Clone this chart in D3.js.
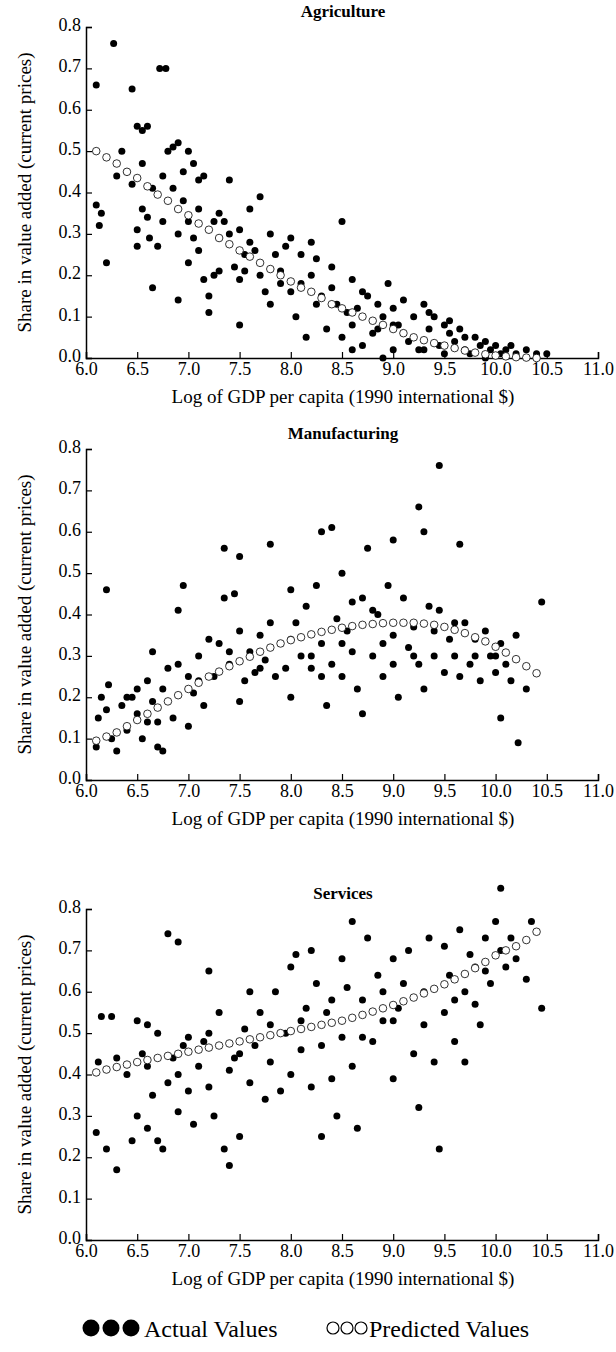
<!DOCTYPE html>
<html><head><meta charset="utf-8">
<script src="https://cdn.jsdelivr.net/npm/d3@7"></script>
<style>body{margin:0;background:#fff}text{font-family:"Liberation Serif","DejaVu Serif",serif}</style>
</head><body><svg id="c" width="616" height="1352"></svg>
<script>
const xTicks=[6.0,6.5,7.0,7.5,8.0,8.5,9.0,9.5,10.0,10.5,11.0];
const yTicks=[0,0.1,0.2,0.3,0.4,0.5,0.6,0.7,0.8];
const panelTitles=["Agriculture","Manufacturing","Services"];
const predX=[6.1,6.2,6.3,6.4,6.5,6.6,6.7,6.8,6.9,7.0,7.1,7.2,7.3,7.4,7.5,7.6,7.7,7.8,7.9,8.0,8.1,8.2,8.3,8.4,8.5,8.6,8.7,8.8,8.9,9.0,9.1,9.2,9.3,9.4,9.5,9.6,9.7,9.8,9.9,10.0,10.1,10.2,10.3,10.4];
const agriPred=[0.50,0.485,0.47,0.45,0.435,0.415,0.395,0.38,0.36,0.345,0.325,0.31,0.29,0.275,0.26,0.245,0.23,0.215,0.20,0.185,0.17,0.16,0.145,0.13,0.12,0.11,0.10,0.09,0.08,0.07,0.06,0.05,0.043,0.036,0.03,0.024,0.018,0.013,0.009,0.006,0.004,0.002,0.001,0.0];
const manuPred=[0.095,0.105,0.115,0.13,0.145,0.16,0.175,0.19,0.205,0.22,0.235,0.25,0.262,0.275,0.287,0.298,0.31,0.32,0.33,0.338,0.345,0.352,0.358,0.363,0.368,0.372,0.375,0.377,0.379,0.38,0.38,0.38,0.378,0.375,0.37,0.363,0.355,0.345,0.335,0.322,0.308,0.292,0.275,0.258];
const servPred=[0.405,0.412,0.418,0.424,0.43,0.435,0.44,0.445,0.45,0.455,0.46,0.465,0.47,0.475,0.48,0.485,0.49,0.495,0.5,0.505,0.51,0.515,0.52,0.525,0.53,0.537,0.544,0.552,0.56,0.568,0.577,0.586,0.596,0.607,0.618,0.63,0.643,0.657,0.672,0.688,0.7,0.71,0.725,0.745];
const agriActual=[[6.1,0.66],[6.27,0.76],[6.1,0.37],[6.13,0.32],[6.15,0.35],[6.2,0.23],[6.45,0.65],[6.5,0.56],[6.55,0.55],[6.6,0.56],[6.72,0.70],[6.78,0.70],[6.4,0.45],[6.45,0.42],[6.5,0.31],[6.5,0.27],[6.55,0.36],[6.6,0.34],[6.62,0.29],[6.65,0.17],[6.7,0.27],[6.75,0.33],[6.8,0.5],[6.85,0.51],[6.9,0.52],[6.95,0.45],[7.0,0.5],[7.05,0.47],[7.1,0.43],[7.15,0.44],[6.9,0.14],[6.9,0.30],[6.95,0.38],[7.0,0.33],[7.0,0.23],[7.05,0.29],[7.1,0.26],[7.15,0.19],[7.2,0.11],[7.2,0.15],[7.25,0.2],[7.3,0.35],[7.3,0.21],[7.35,0.33],[7.4,0.43],[7.4,0.3],[7.45,0.22],[7.5,0.19],[7.5,0.08],[7.55,0.21],[7.6,0.36],[7.6,0.28],[7.65,0.26],[7.7,0.39],[7.7,0.2],[7.75,0.16],[7.8,0.30],[7.8,0.13],[7.85,0.25],[7.9,0.21],[7.95,0.27],[8.0,0.29],[8.0,0.16],[8.05,0.10],[8.1,0.25],[8.1,0.18],[8.15,0.05],[8.2,0.20],[8.25,0.24],[8.25,0.13],[8.3,0.15],[8.35,0.07],[8.4,0.17],[8.45,0.13],[8.5,0.33],[8.5,0.05],[8.55,0.11],[8.6,0.19],[8.6,0.02],[8.65,0.12],[8.7,0.03],[8.75,0.15],[8.8,0.06],[8.85,0.13],[8.9,0.0],[8.9,0.1],[8.95,0.18],[9.0,0.12],[9.0,0.02],[9.05,0.08],[9.1,0.14],[9.15,0.04],[9.2,0.10],[9.25,0.02],[9.3,0.13],[9.35,0.07],[9.4,0.1],[9.45,0.03],[9.5,0.08],[9.55,0.06],[9.6,0.04],[9.65,0.07],[9.7,0.05],[9.75,0.01],[9.8,0.05],[9.85,0.03],[9.9,0.04],[9.95,0.02],[10.0,0.03],[10.05,0.01],[10.1,0.02],[10.15,0.03],[10.2,0.01],[10.3,0.02],[10.4,0.01],[10.5,0.01],[6.3,0.44],[6.35,0.5],[6.55,0.47],[6.65,0.41],[6.75,0.44],[6.85,0.41],[7.1,0.36],[7.25,0.33],[7.5,0.31],[7.55,0.25],[7.9,0.18],[8.2,0.28],[8.4,0.22],[8.7,0.16],[9.1,0.06],[9.3,0.02],[9.5,0.01],[9.7,0.02],[9.9,0.0],[9.55,0.09],[9.35,0.11],[9.0,0.08],[8.85,0.07],[8.6,0.08]];
const manuActual=[[6.1,0.08],[6.12,0.15],[6.15,0.2],[6.2,0.46],[6.22,0.23],[6.25,0.1],[6.3,0.07],[6.35,0.18],[6.4,0.12],[6.45,0.2],[6.5,0.16],[6.5,0.22],[6.55,0.1],[6.6,0.24],[6.6,0.14],[6.65,0.31],[6.65,0.19],[6.7,0.08],[6.75,0.07],[6.75,0.22],[6.8,0.27],[6.85,0.15],[6.9,0.28],[6.9,0.41],[6.95,0.47],[7.0,0.25],[7.0,0.13],[7.05,0.21],[7.1,0.3],[7.15,0.18],[7.2,0.34],[7.25,0.25],[7.3,0.33],[7.35,0.56],[7.35,0.44],[7.4,0.28],[7.45,0.45],[7.5,0.54],[7.5,0.36],[7.55,0.24],[7.6,0.31],[7.65,0.26],[7.7,0.35],[7.75,0.29],[7.8,0.57],[7.8,0.38],[7.85,0.25],[7.9,0.33],[7.95,0.27],[8.0,0.46],[8.0,0.2],[8.05,0.38],[8.1,0.3],[8.15,0.42],[8.2,0.27],[8.25,0.47],[8.3,0.6],[8.3,0.33],[8.35,0.18],[8.4,0.61],[8.4,0.28],[8.45,0.39],[8.5,0.5],[8.5,0.25],[8.55,0.36],[8.6,0.43],[8.6,0.31],[8.65,0.22],[8.7,0.44],[8.7,0.16],[8.75,0.56],[8.8,0.3],[8.85,0.4],[8.9,0.25],[8.95,0.47],[9.0,0.58],[9.0,0.35],[9.05,0.2],[9.1,0.44],[9.15,0.32],[9.2,0.37],[9.25,0.66],[9.25,0.28],[9.3,0.6],[9.3,0.22],[9.35,0.42],[9.4,0.3],[9.45,0.76],[9.45,0.41],[9.5,0.26],[9.55,0.34],[9.6,0.3],[9.65,0.57],[9.65,0.25],[9.7,0.38],[9.75,0.28],[9.8,0.34],[9.85,0.24],[9.9,0.36],[9.95,0.3],[10.0,0.26],[10.05,0.33],[10.05,0.15],[10.1,0.28],[10.15,0.24],[10.2,0.35],[10.22,0.09],[10.3,0.22],[10.45,0.43],[6.2,0.17],[6.4,0.2],[6.7,0.14],[7.1,0.24],[7.4,0.31],[7.7,0.27],[8.0,0.34],[8.2,0.3],[8.5,0.33],[8.8,0.41],[9.0,0.28],[9.2,0.3],[9.4,0.36],[9.6,0.38],[9.8,0.3],[10.0,0.3],[8.3,0.25],[7.5,0.19],[8.9,0.33]];
const servActual=[[6.1,0.26],[6.12,0.43],[6.15,0.54],[6.2,0.22],[6.25,0.54],[6.3,0.17],[6.4,0.4],[6.45,0.24],[6.5,0.53],[6.5,0.3],[6.55,0.45],[6.6,0.27],[6.6,0.52],[6.65,0.35],[6.7,0.24],[6.75,0.22],[6.8,0.74],[6.8,0.38],[6.85,0.44],[6.9,0.72],[6.9,0.31],[6.95,0.47],[7.0,0.36],[7.05,0.28],[7.1,0.42],[7.15,0.48],[7.2,0.65],[7.2,0.37],[7.25,0.3],[7.3,0.55],[7.35,0.22],[7.4,0.18],[7.45,0.44],[7.5,0.25],[7.55,0.51],[7.6,0.38],[7.65,0.47],[7.7,0.55],[7.75,0.34],[7.8,0.43],[7.85,0.6],[7.9,0.36],[7.95,0.5],[8.0,0.66],[8.0,0.4],[8.05,0.69],[8.1,0.46],[8.15,0.56],[8.2,0.7],[8.2,0.37],[8.25,0.62],[8.3,0.25],[8.35,0.55],[8.4,0.39],[8.45,0.3],[8.5,0.68],[8.5,0.49],[8.55,0.61],[8.6,0.77],[8.6,0.42],[8.65,0.27],[8.7,0.58],[8.75,0.73],[8.8,0.48],[8.85,0.64],[8.9,0.53],[9.0,0.39],[9.0,0.68],[9.05,0.56],[9.1,0.62],[9.15,0.7],[9.2,0.45],[9.25,0.32],[9.3,0.6],[9.35,0.73],[9.4,0.43],[9.45,0.22],[9.5,0.55],[9.5,0.71],[9.55,0.64],[9.6,0.48],[9.65,0.75],[9.7,0.6],[9.7,0.43],[9.75,0.69],[9.8,0.66],[9.85,0.52],[9.9,0.73],[9.95,0.62],[10.0,0.77],[10.05,0.7],[10.05,0.85],[10.1,0.66],[10.15,0.73],[10.2,0.68],[10.3,0.63],[10.35,0.77],[10.45,0.56],[6.3,0.44],[6.6,0.42],[6.9,0.4],[7.2,0.5],[7.5,0.45],[7.8,0.52],[8.1,0.53],[8.4,0.58],[8.7,0.49],[9.0,0.53],[9.3,0.52],[9.6,0.58],[9.9,0.65],[7.0,0.49],[7.4,0.41],[8.3,0.47],[8.9,0.6],[9.8,0.57],[6.7,0.5],[7.6,0.6]];

const FF='"Liberation Serif","DejaVu Serif",serif';
const svg=d3.select("#c");
const x=d3.scaleLinear().domain([6,11]).range([86,598]);
const panels=[
 {t:panelTitles[0],a:agriActual,p:agriPred,y0:358,y1:27},
 {t:panelTitles[1],a:manuActual,p:manuPred,y0:780,y1:449},
 {t:panelTitles[2],a:servActual,p:servPred,y0:1240,y1:909}];
panels.forEach(P=>{
 const y=d3.scaleLinear().domain([0,0.8]).range([P.y0,P.y1]);
 const g=svg.append("g");
 g.append("g").attr("transform",`translate(0,${P.y0})`)
  .call(d3.axisBottom(x).tickValues(xTicks).tickFormat(d3.format(".1f")).tickSize(-6).tickPadding(3))
  .call(s=>{s.attr("font-family",FF);s.select(".domain").attr("stroke","#000").attr("stroke-width",1.5);s.selectAll("line").attr("stroke-width",1.2);s.selectAll("text").attr("font-size",18).attr("dy","0.75em").attr("fill","#000");});
 g.append("g").attr("transform",`translate(${x(6)},0)`)
  .call(d3.axisLeft(y).tickValues(yTicks).tickFormat(d3.format(".1f")).tickSize(-6).tickPadding(5))
  .call(s=>{s.attr("font-family",FF);s.select(".domain").attr("stroke","#000").attr("stroke-width",1.5);s.selectAll("line").attr("stroke-width",1.2);s.selectAll("text").attr("font-size",18).attr("dy","0.2em").attr("fill","#000");});
 g.selectAll(".a").data(P.a).join("circle").attr("cx",d=>x(d[0])).attr("cy",d=>y(d[1])).attr("r",3.5).attr("fill","#000");
 g.selectAll(".p").data(predX.map((v,i)=>[v,P.p[i]])).join("circle").attr("cx",d=>x(d[0])).attr("cy",d=>y(d[1])).attr("r",3.8).attr("fill","#fff").attr("stroke","#000").attr("stroke-width",0.8);
 g.append("text").attr("x",343).attr("y",P.y1-10).attr("text-anchor","middle").attr("font-weight","bold").attr("font-size",17).text(P.t);
 g.append("text").attr("x",343).attr("y",P.y0+45).attr("text-anchor","middle").attr("font-size",19).text("Log of GDP per capita (1990 international $)");
 g.append("text").attr("transform",`translate(31,${(P.y0+P.y1)/2}) rotate(-90)`).attr("text-anchor","middle").attr("font-size",19).text("Share in value added (current prices)");
});
const lg=svg.append("g");
[91,111,131].forEach(cx=>lg.append("circle").attr("cx",cx).attr("cy",1328).attr("r",8.5).attr("fill","#000"));
lg.append("text").attr("x",144).attr("y",1337).attr("font-size",24).text("Actual Values");
[333,347,361].forEach(cx=>lg.append("circle").attr("cx",cx).attr("cy",1328).attr("r",6).attr("fill","#fff").attr("stroke","#000").attr("stroke-width",1.2));
lg.append("text").attr("x",369).attr("y",1337).attr("font-size",24).text("Predicted Values");
</script></body></html>
